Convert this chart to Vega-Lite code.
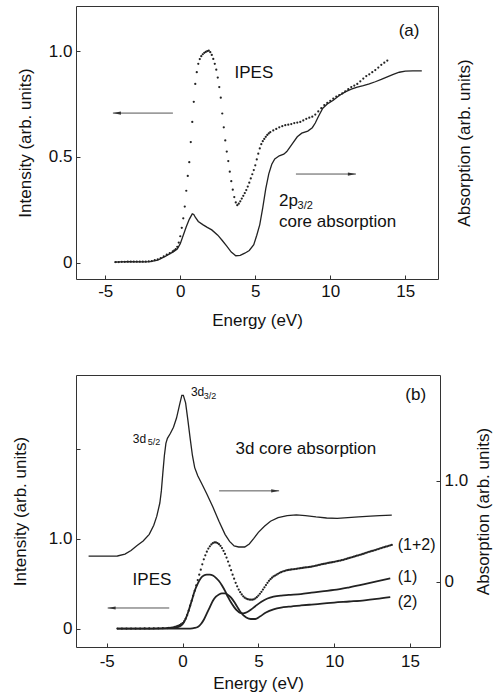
{
 "$schema": "https://vega.github.io/schema/vega-lite/v6.json",
 "padding": {"left": 10, "top": 5, "right": 0, "bottom": 0},
 "spacing": 45,
 "align": "none",
 "config": {
  "font": "Liberation Sans",
  "view": {"stroke": "#333", "strokeWidth": 1},
  "axis": {"domain": false, "grid": false, "tickSize": -4, "tickColor": "#333", "tickWidth": 1, "labelFont": "Liberation Sans", "labelFontSize": 17, "labelColor": "#111", "titleFont": "Liberation Sans", "titleFontSize": 17, "titleFontWeight": "normal", "titleColor": "#111", "labelPadding": 8}
 },
 "datasets": {
  "ipesA": [
   {"x":-4.3,"y":0.003},{"x":-4.1,"y":0.003},{"x":-3.9,"y":0.004},{"x":-3.7,"y":0.004},{"x":-3.5,"y":0.005},{"x":-3.3,"y":0.005},{"x":-3.1,"y":0.005},{"x":-2.9,"y":0.005},{"x":-2.7,"y":0.005},{"x":-2.5,"y":0.005},{"x":-2.3,"y":0.005},{"x":-2.1,"y":0.006},{"x":-1.9,"y":0.008},{"x":-1.7,"y":0.012},{"x":-1.5,"y":0.016},{"x":-1.3,"y":0.022},{"x":-1.1,"y":0.03},{"x":-0.9,"y":0.038},{"x":-0.7,"y":0.045},{"x":-0.5,"y":0.053},
   {"x":-0.4,"y":0.058},{"x":-0.3,"y":0.064},{"x":-0.2,"y":0.075},{"x":-0.1,"y":0.095},{"x":0.0,"y":0.125},{"x":0.1,"y":0.165},{"x":0.2,"y":0.21},{"x":0.3,"y":0.265},{"x":0.4,"y":0.34},{"x":0.5,"y":0.41},{"x":0.6,"y":0.475},{"x":0.7,"y":0.57},{"x":0.8,"y":0.665},{"x":0.9,"y":0.76},{"x":1.0,"y":0.845},{"x":1.1,"y":0.9},{"x":1.2,"y":0.94},{"x":1.3,"y":0.962},{"x":1.4,"y":0.976},{"x":1.5,"y":0.985},{"x":1.6,"y":0.992},{"x":1.7,"y":0.996},{"x":1.8,"y":1.0},{"x":1.9,"y":1.002},{"x":2.0,"y":0.995},{"x":2.1,"y":0.982},{"x":2.2,"y":0.963},{"x":2.3,"y":0.94},{"x":2.4,"y":0.912},{"x":2.5,"y":0.875},{"x":2.6,"y":0.83},{"x":2.7,"y":0.78},{"x":2.8,"y":0.705},{"x":2.9,"y":0.64},{"x":3.0,"y":0.578},{"x":3.1,"y":0.525},{"x":3.2,"y":0.48},{"x":3.3,"y":0.43},{"x":3.4,"y":0.385},{"x":3.5,"y":0.345},{"x":3.6,"y":0.31},{"x":3.7,"y":0.285},{"x":3.8,"y":0.272},{"x":3.9,"y":0.279},{"x":4.0,"y":0.29},{"x":4.1,"y":0.303},{"x":4.2,"y":0.316},{"x":4.3,"y":0.329},{"x":4.4,"y":0.343},{"x":4.5,"y":0.36},{"x":4.6,"y":0.378},{"x":4.7,"y":0.398},{"x":4.8,"y":0.418},{"x":4.9,"y":0.438},{"x":5.0,"y":0.46},{"x":5.1,"y":0.488},{"x":5.2,"y":0.515},{"x":5.3,"y":0.54},{"x":5.4,"y":0.56},{"x":5.5,"y":0.574},{"x":5.6,"y":0.585},{"x":5.7,"y":0.595},{"x":5.8,"y":0.604},{"x":5.9,"y":0.611},{"x":6.0,"y":0.617},
   {"x":6.2,"y":0.625},{"x":6.4,"y":0.632},{"x":6.6,"y":0.64},{"x":6.8,"y":0.645},{"x":7.0,"y":0.65},{"x":7.2,"y":0.652},{"x":7.4,"y":0.655},{"x":7.6,"y":0.66},{"x":7.8,"y":0.662},{"x":8.0,"y":0.665},{"x":8.2,"y":0.672},{"x":8.4,"y":0.68},{"x":8.6,"y":0.685},{"x":8.8,"y":0.69},{"x":9.0,"y":0.7},{"x":9.2,"y":0.715},{"x":9.4,"y":0.73},{"x":9.6,"y":0.745},{"x":9.8,"y":0.755},{"x":10.0,"y":0.765},{"x":10.2,"y":0.775},{"x":10.4,"y":0.785},{"x":10.6,"y":0.792},{"x":10.8,"y":0.8},{"x":11.0,"y":0.81},{"x":11.2,"y":0.82},{"x":11.4,"y":0.83},{"x":11.6,"y":0.837},{"x":11.8,"y":0.845},{"x":12.0,"y":0.857},{"x":12.2,"y":0.87},{"x":12.4,"y":0.882},{"x":12.6,"y":0.89},{"x":12.8,"y":0.9},{"x":13.0,"y":0.91},{"x":13.2,"y":0.922},{"x":13.4,"y":0.935},{"x":13.6,"y":0.945},{"x":13.8,"y":0.955}
  ],
  "absA": [
   {"x":-4.4,"y":0.003},{"x":-3.5,"y":0.005},{"x":-2.5,"y":0.004},{"x":-2.0,"y":0.005},{"x":-1.5,"y":0.012},{"x":-1.0,"y":0.03},{"x":-0.5,"y":0.05},{"x":-0.2,"y":0.065},{"x":0.0,"y":0.09},{"x":0.2,"y":0.13},{"x":0.4,"y":0.17},{"x":0.6,"y":0.205},{"x":0.8,"y":0.231},{"x":0.9,"y":0.228},{"x":1.0,"y":0.215},{"x":1.2,"y":0.195},{"x":1.5,"y":0.18},{"x":1.8,"y":0.167},{"x":2.1,"y":0.155},{"x":2.5,"y":0.13},{"x":2.8,"y":0.105},{"x":3.1,"y":0.078},{"x":3.4,"y":0.05},{"x":3.7,"y":0.033},{"x":4.0,"y":0.035},{"x":4.3,"y":0.045},{"x":4.6,"y":0.058},{"x":4.9,"y":0.085},{"x":5.1,"y":0.13},{"x":5.3,"y":0.18},{"x":5.5,"y":0.26},{"x":5.7,"y":0.35},{"x":5.9,"y":0.42},{"x":6.1,"y":0.465},{"x":6.3,"y":0.49},{"x":6.6,"y":0.505},{"x":6.9,"y":0.513},{"x":7.1,"y":0.525},{"x":7.3,"y":0.545},{"x":7.5,"y":0.565},{"x":7.8,"y":0.595},{"x":8.1,"y":0.612},{"x":8.5,"y":0.622},{"x":8.8,"y":0.638},{"x":9.0,"y":0.66},{"x":9.2,"y":0.69},{"x":9.5,"y":0.73},{"x":9.8,"y":0.75},{"x":10.2,"y":0.768},{"x":10.6,"y":0.79},{"x":11.0,"y":0.807},{"x":11.4,"y":0.82},{"x":11.8,"y":0.83},{"x":12.2,"y":0.837},{"x":12.6,"y":0.845},{"x":13.0,"y":0.855},{"x":13.4,"y":0.866},{"x":13.8,"y":0.878},{"x":14.2,"y":0.89},{"x":14.6,"y":0.9},{"x":15.0,"y":0.905},{"x":15.5,"y":0.906},{"x":16.1,"y":0.906}
  ],
  "absB": [
   {"x":-6.2,"y":0.254},{"x":-5.0,"y":0.254},{"x":-4.3,"y":0.256},{"x":-3.8,"y":0.275},{"x":-3.4,"y":0.31},{"x":-3.0,"y":0.36},{"x":-2.6,"y":0.405},{"x":-2.2,"y":0.47},{"x":-1.9,"y":0.56},{"x":-1.7,"y":0.65},{"x":-1.5,"y":0.78},{"x":-1.4,"y":0.9},{"x":-1.3,"y":1.08},{"x":-1.2,"y":1.25},{"x":-1.1,"y":1.37},{"x":-1.0,"y":1.42},{"x":-0.8,"y":1.47},{"x":-0.6,"y":1.53},{"x":-0.4,"y":1.62},{"x":-0.2,"y":1.75},{"x":-0.05,"y":1.845},{"x":0.05,"y":1.845},{"x":0.2,"y":1.77},{"x":0.35,"y":1.6},{"x":0.5,"y":1.42},{"x":0.65,"y":1.25},{"x":0.8,"y":1.13},{"x":1.0,"y":1.05},{"x":1.3,"y":0.96},{"x":1.6,"y":0.87},{"x":2.0,"y":0.74},{"x":2.4,"y":0.6},{"x":2.8,"y":0.47},{"x":3.1,"y":0.4},{"x":3.4,"y":0.355},{"x":3.7,"y":0.345},{"x":4.1,"y":0.345},{"x":4.4,"y":0.375},{"x":4.7,"y":0.43},{"x":5.0,"y":0.49},{"x":5.4,"y":0.55},{"x":5.8,"y":0.6},{"x":6.3,"y":0.635},{"x":6.9,"y":0.655},{"x":7.5,"y":0.662},{"x":8.1,"y":0.655},{"x":8.8,"y":0.642},{"x":9.5,"y":0.632},{"x":10.2,"y":0.628},{"x":10.9,"y":0.635},{"x":11.6,"y":0.643},{"x":12.4,"y":0.65},{"x":13.0,"y":0.655},{"x":13.8,"y":0.66}
  ],
  "b1": [
   {"x":-4.3,"y":0.0},{"x":-2.0,"y":0.002},{"x":-1.0,"y":0.006},{"x":-0.5,"y":0.012},{"x":-0.2,"y":0.025},{"x":0.0,"y":0.05},{"x":0.2,"y":0.11},{"x":0.4,"y":0.2},{"x":0.6,"y":0.31},{"x":0.8,"y":0.42},{"x":1.0,"y":0.5},{"x":1.2,"y":0.56},{"x":1.4,"y":0.59},{"x":1.6,"y":0.6},{"x":1.8,"y":0.6},{"x":2.0,"y":0.59},{"x":2.2,"y":0.565},{"x":2.4,"y":0.53},{"x":2.6,"y":0.48},{"x":2.8,"y":0.42},{"x":3.0,"y":0.35},{"x":3.2,"y":0.29},{"x":3.4,"y":0.24},{"x":3.6,"y":0.2},{"x":3.8,"y":0.175},{"x":4.0,"y":0.17},{"x":4.2,"y":0.18},{"x":4.5,"y":0.21},{"x":4.8,"y":0.25},{"x":5.2,"y":0.3},{"x":5.6,"y":0.335},{"x":6.0,"y":0.355},{"x":6.5,"y":0.368},{"x":7.0,"y":0.375},{"x":7.8,"y":0.385},{"x":8.5,"y":0.4},{"x":9.2,"y":0.415},{"x":10.0,"y":0.43},{"x":11.0,"y":0.46},{"x":12.0,"y":0.495},{"x":12.8,"y":0.525},{"x":13.7,"y":0.56}
  ],
  "b2": [
   {"x":-4.3,"y":0.0},{"x":0.5,"y":0.002},{"x":0.8,"y":0.008},{"x":1.0,"y":0.02},{"x":1.2,"y":0.05},{"x":1.4,"y":0.1},{"x":1.6,"y":0.17},{"x":1.8,"y":0.24},{"x":2.0,"y":0.31},{"x":2.2,"y":0.355},{"x":2.4,"y":0.38},{"x":2.6,"y":0.392},{"x":2.8,"y":0.392},{"x":3.0,"y":0.375},{"x":3.2,"y":0.345},{"x":3.4,"y":0.3},{"x":3.6,"y":0.245},{"x":3.8,"y":0.19},{"x":4.0,"y":0.15},{"x":4.2,"y":0.125},{"x":4.5,"y":0.108},{"x":4.8,"y":0.108},{"x":5.1,"y":0.135},{"x":5.5,"y":0.18},{"x":6.0,"y":0.215},{"x":6.5,"y":0.235},{"x":7.0,"y":0.245},{"x":7.8,"y":0.258},{"x":8.5,"y":0.268},{"x":9.2,"y":0.278},{"x":10.0,"y":0.29},{"x":11.0,"y":0.302},{"x":12.0,"y":0.315},{"x":12.8,"y":0.33},{"x":13.7,"y":0.35}
  ],
  "b12": [
   {"x":-4.3,"y":0.002},{"x":-4.0,"y":0.002},{"x":-3.7,"y":0.002},{"x":-3.4,"y":0.002},{"x":-3.1,"y":0.002},{"x":-2.8,"y":0.002},{"x":-2.5,"y":0.003},{"x":-2.2,"y":0.003},{"x":-1.9,"y":0.004},{"x":-1.6,"y":0.005},{"x":-1.3,"y":0.006},{"x":-1.0,"y":0.007},
   {"x":-0.9,"y":0.008},{"x":-0.8,"y":0.01},{"x":-0.7,"y":0.012},{"x":-0.6,"y":0.015},{"x":-0.5,"y":0.02},{"x":-0.4,"y":0.026},{"x":-0.3,"y":0.032},{"x":-0.2,"y":0.04},{"x":-0.1,"y":0.05},{"x":0.0,"y":0.062},{"x":0.1,"y":0.082},{"x":0.2,"y":0.11},{"x":0.3,"y":0.15},{"x":0.4,"y":0.2},{"x":0.5,"y":0.255},{"x":0.6,"y":0.31},{"x":0.7,"y":0.365},{"x":0.8,"y":0.42},{"x":0.9,"y":0.48},{"x":1.0,"y":0.54},{"x":1.1,"y":0.6},{"x":1.2,"y":0.655},{"x":1.3,"y":0.715},{"x":1.4,"y":0.77},{"x":1.5,"y":0.815},{"x":1.6,"y":0.855},{"x":1.7,"y":0.89},{"x":1.8,"y":0.915},{"x":1.9,"y":0.935},{"x":2.0,"y":0.95},{"x":2.1,"y":0.958},{"x":2.2,"y":0.958},{"x":2.3,"y":0.95},{"x":2.4,"y":0.938},{"x":2.5,"y":0.92},{"x":2.6,"y":0.895},{"x":2.7,"y":0.865},{"x":2.8,"y":0.83},{"x":2.9,"y":0.79},{"x":3.0,"y":0.745},{"x":3.1,"y":0.7},{"x":3.2,"y":0.65},{"x":3.3,"y":0.6},{"x":3.4,"y":0.555},{"x":3.5,"y":0.51},{"x":3.6,"y":0.47},{"x":3.7,"y":0.435},{"x":3.8,"y":0.405},{"x":3.9,"y":0.38},{"x":4.0,"y":0.36},{"x":4.1,"y":0.345},{"x":4.2,"y":0.335},{"x":4.3,"y":0.328},{"x":4.4,"y":0.324},{"x":4.5,"y":0.322},{"x":4.6,"y":0.322},{"x":4.7,"y":0.326},{"x":4.8,"y":0.336},{"x":4.9,"y":0.35},{"x":5.0,"y":0.368},
   {"x":5.1,"y":0.388},{"x":5.2,"y":0.41},{"x":5.3,"y":0.435},{"x":5.4,"y":0.46},{"x":5.5,"y":0.485},{"x":5.6,"y":0.51},{"x":5.7,"y":0.532},{"x":5.8,"y":0.55},{"x":5.9,"y":0.566},{"x":6.0,"y":0.58},{"x":6.1,"y":0.59},{"x":6.2,"y":0.6},{"x":6.3,"y":0.61},{"x":6.4,"y":0.62},{"x":6.5,"y":0.628},{"x":6.6,"y":0.635},{"x":6.7,"y":0.64},{"x":6.8,"y":0.645},{"x":6.9,"y":0.649},{"x":7.0,"y":0.652},{"x":7.1,"y":0.655},{"x":7.2,"y":0.658},{"x":7.3,"y":0.66},{"x":7.4,"y":0.662},{"x":7.5,"y":0.665},{"x":7.6,"y":0.667},{"x":7.7,"y":0.67},{"x":7.8,"y":0.672},{"x":7.9,"y":0.675},{"x":8.0,"y":0.677},{"x":8.1,"y":0.68},{"x":8.2,"y":0.682},{"x":8.3,"y":0.684},{"x":8.4,"y":0.686},{"x":8.5,"y":0.689},{"x":8.6,"y":0.692},{"x":8.7,"y":0.696},{"x":8.8,"y":0.7},{"x":8.9,"y":0.704},{"x":9.0,"y":0.708},{"x":9.1,"y":0.712},{"x":9.2,"y":0.716},{"x":9.3,"y":0.719},{"x":9.4,"y":0.722},{"x":9.5,"y":0.726},{"x":9.6,"y":0.73},{"x":9.7,"y":0.733},{"x":9.8,"y":0.736},{"x":9.9,"y":0.739},{"x":10.0,"y":0.742},{"x":10.1,"y":0.746},{"x":10.2,"y":0.75},{"x":10.3,"y":0.754},{"x":10.4,"y":0.757},{"x":10.5,"y":0.761},{"x":10.6,"y":0.765},{"x":10.7,"y":0.77},{"x":10.8,"y":0.775},{"x":10.9,"y":0.78},{"x":11.0,"y":0.785},{"x":11.1,"y":0.79},{"x":11.2,"y":0.795},{"x":11.3,"y":0.8},{"x":11.4,"y":0.805},{"x":11.5,"y":0.81},{"x":11.6,"y":0.815},{"x":11.7,"y":0.82},{"x":11.8,"y":0.825},{"x":11.9,"y":0.83},{"x":12.0,"y":0.835},{"x":12.1,"y":0.842},{"x":12.2,"y":0.848},{"x":12.3,"y":0.853},{"x":12.4,"y":0.858},{"x":12.5,"y":0.863},{"x":12.6,"y":0.868},{"x":12.7,"y":0.873},{"x":12.8,"y":0.878},{"x":12.9,"y":0.884},{"x":13.0,"y":0.89},{"x":13.1,"y":0.895},{"x":13.2,"y":0.9},{"x":13.3,"y":0.905},{"x":13.4,"y":0.91},{"x":13.5,"y":0.915},{"x":13.6,"y":0.92},{"x":13.7,"y":0.925},{"x":13.8,"y":0.93}
  ],
  "textA": [
   {"x":15.25,"y":1.094,"t":"(a)","kind":"c"},
   {"x":4.91,"y":0.896,"t":"IPES","kind":"c"},
   {"x":6.58,"y":0.29,"t":"2p","kind":"l"},
   {"x":6.58,"y":0.19,"t":"core absorption","kind":"l"},
   {"x":7.82,"y":0.268,"t":"3/2","kind":"s"}
  ],
  "arrowsA": [
   {"x":-0.49,"x2":-4.49,"y":0.707,"hx":-4.22,"dir":"left"},
   {"x":7.71,"x2":11.71,"y":0.419,"hx":11.44,"dir":"right"}
  ],
  "textB": [
   {"x":15.38,"y":2.593,"t":"(b)","kind":"c"},
   {"x":8.13,"y":2.0,"t":"3d core absorption","kind":"c"},
   {"x":-2.02,"y":0.538,"t":"IPES","kind":"c"},
   {"x":14.19,"y":0.927,"t":"(1+2)","kind":"l"},
   {"x":14.19,"y":0.574,"t":"(1)","kind":"l"},
   {"x":14.19,"y":0.296,"t":"(2)","kind":"l"},
   {"x":0.55,"y":2.622,"t":"3d","kind":"m"},
   {"x":1.4,"y":2.58,"t":"3/2","kind":"s"},
   {"x":-3.28,"y":2.111,"t":"3d","kind":"m"},
   {"x":-2.29,"y":2.067,"t":"5/2","kind":"s"}
  ],
  "arrowsB": [
   {"x":-0.88,"x2":-4.94,"y":0.23,"hx":-4.68,"dir":"left"},
   {"x":2.41,"x2":6.37,"y":1.53,"hx":6.11,"dir":"right"}
  ]
 },
 "vconcat": [
  {
   "width": 362, "height": 273,
   "encoding": {
    "x": {"field": "x", "type": "quantitative", "scale": {"domain": [-6.95, 17.18], "nice": false, "zero": false}, "axis": {"values": [-5, 0, 5, 10, 15], "title": "Energy (eV)", "labelExpr": "'' + datum.value", "titlePadding": 13}},
    "y": {"field": "y", "type": "quantitative", "scale": {"domain": [-0.077, 1.213], "nice": false, "zero": false}, "axis": null}
   },
   "layer": [
    {"data": {"name": "ipesA"}, "mark": {"type": "point", "filled": true, "size": 5, "color": "#222", "opacity": 1},
     "encoding": {"y": {"field": "y", "type": "quantitative", "scale": {"domain": [-0.077, 1.213], "nice": false, "zero": false}, "axis": {"orient": "left", "values": [0, 0.5, 1], "title": "Intensity (arb. units)", "labelExpr": "datum.value == 0 ? '0' : format(datum.value, '.1f')", "titlePadding": 14}}}},
    {"data": {"name": "absA"}, "mark": {"type": "line", "color": "#222", "strokeWidth": 1.3},
     "encoding": {"y": {"field": "y", "type": "quantitative", "scale": {"domain": [-0.077, 1.213], "nice": false, "zero": false}, "axis": {"orient": "right", "values": [], "labels": false, "ticks": false, "title": "Absorption (arb. units)", "titleAngle": 270, "titleBaseline": "top", "titlePadding": 18}}}},
    {"data": {"name": "arrowsA"}, "mark": {"type": "rule", "color": "#555", "strokeWidth": 1}, "encoding": {"x2": {"field": "x2"}}},
    {"data": {"name": "arrowsA"}, "transform": [{"filter": "datum.dir == 'left'"}], "mark": {"type": "point", "filled": true, "opacity": 1, "color": "#333", "size": 64, "shape": "M-1,0L1,-0.4L1,0.4Z"}, "encoding": {"x": {"field": "hx", "type": "quantitative"}}},
    {"data": {"name": "arrowsA"}, "transform": [{"filter": "datum.dir == 'right'"}], "mark": {"type": "point", "filled": true, "opacity": 1, "color": "#333", "size": 64, "shape": "M1,0L-1,-0.4L-1,0.4Z"}, "encoding": {"x": {"field": "hx", "type": "quantitative"}}},
    {"data": {"name": "textA"}, "transform": [{"filter": "datum.kind == 'c'"}], "mark": {"type": "text", "fontSize": 17, "align": "center", "baseline": "middle", "color": "#111"}, "encoding": {"text": {"field": "t"}}},
    {"data": {"name": "textA"}, "transform": [{"filter": "datum.kind == 'l'"}], "mark": {"type": "text", "fontSize": 17, "align": "left", "baseline": "middle", "color": "#111"}, "encoding": {"text": {"field": "t"}}},
    {"data": {"name": "textA"}, "transform": [{"filter": "datum.kind == 's'"}], "mark": {"type": "text", "fontSize": 11, "align": "left", "baseline": "middle", "color": "#111"}, "encoding": {"text": {"field": "t"}}}
   ],
   "resolve": {"scale": {"y": "independent"}}
  },
  {
   "width": 364, "height": 272,
   "encoding": {
    "x": {"field": "x", "type": "quantitative", "scale": {"domain": [-7.03, 16.98], "nice": false, "zero": false}, "axis": {"values": [-5, 0, 5, 10, 15], "title": "Energy (eV)", "labelExpr": "'' + datum.value", "labelPadding": 10, "titlePadding": 6}},
    "y": {"field": "y", "type": "quantitative", "scale": {"domain": [-0.203, 2.816], "nice": false, "zero": false}, "axis": null}
   },
   "layer": [
    {"data": {"name": "b12"}, "mark": {"type": "point", "filled": true, "size": 5, "color": "#222", "opacity": 1},
     "encoding": {"y": {"field": "y", "type": "quantitative", "scale": {"domain": [-0.203, 2.816], "nice": false, "zero": false}, "axis": {"orient": "left", "values": [0, 1, 2], "title": "Intensity (arb. units)", "labelExpr": "datum.value == 0 ? '0' : (datum.value == 2 ? '' : format(datum.value, '.1f'))", "titlePadding": 19}}}},
    {"data": {"name": "b1"}, "mark": {"type": "line", "color": "#222", "strokeWidth": 1.8, "interpolate": "monotone"}},
    {"data": {"name": "b2"}, "mark": {"type": "line", "color": "#222", "strokeWidth": 1.8, "interpolate": "monotone"}},
    {"data": {"name": "absB"}, "mark": {"type": "line", "color": "#222", "strokeWidth": 1.3},
     "encoding": {"y": {"field": "y", "type": "quantitative", "scale": {"domain": [-0.644, 2.046], "nice": false, "zero": false}, "axis": {"orient": "right", "values": [0, 1], "labelExpr": "datum.value == 0 ? '0' : format(datum.value, '.1f')", "title": "Absorption (arb. units)", "titleAngle": 270, "titleBaseline": "top", "titlePadding": 8}}}},
    {"data": {"name": "arrowsB"}, "mark": {"type": "rule", "color": "#555", "strokeWidth": 1}, "encoding": {"x2": {"field": "x2"}}},
    {"data": {"name": "arrowsB"}, "transform": [{"filter": "datum.dir == 'left'"}], "mark": {"type": "point", "filled": true, "opacity": 1, "color": "#333", "size": 64, "shape": "M-1,0L1,-0.4L1,0.4Z"}, "encoding": {"x": {"field": "hx", "type": "quantitative"}}},
    {"data": {"name": "arrowsB"}, "transform": [{"filter": "datum.dir == 'right'"}], "mark": {"type": "point", "filled": true, "opacity": 1, "color": "#333", "size": 64, "shape": "M1,0L-1,-0.4L-1,0.4Z"}, "encoding": {"x": {"field": "hx", "type": "quantitative"}}},
    {"data": {"name": "textB"}, "transform": [{"filter": "datum.kind == 'c'"}], "mark": {"type": "text", "fontSize": 17, "align": "center", "baseline": "middle", "color": "#111"}, "encoding": {"text": {"field": "t"}}},
    {"data": {"name": "textB"}, "transform": [{"filter": "datum.kind == 'l'"}], "mark": {"type": "text", "fontSize": 16, "align": "left", "baseline": "middle", "color": "#111"}, "encoding": {"text": {"field": "t"}}},
    {"data": {"name": "textB"}, "transform": [{"filter": "datum.kind == 'm'"}], "mark": {"type": "text", "fontSize": 12, "align": "left", "baseline": "middle", "color": "#111"}, "encoding": {"text": {"field": "t"}}},
    {"data": {"name": "textB"}, "transform": [{"filter": "datum.kind == 's'"}], "mark": {"type": "text", "fontSize": 9, "align": "left", "baseline": "middle", "color": "#111"}, "encoding": {"text": {"field": "t"}}}
   ],
   "resolve": {"scale": {"y": "independent"}}
  }
 ]
}
